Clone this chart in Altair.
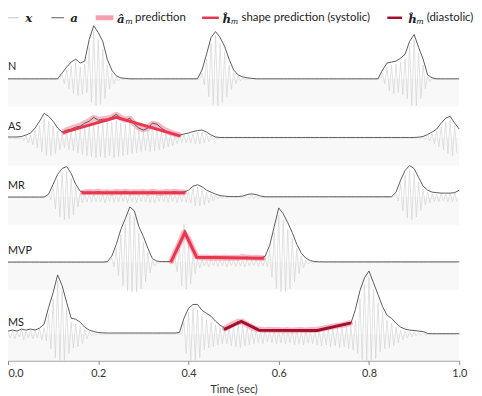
import altair as alt
import pandas as pd

# ---------------- data (amplitudes, px-like units) ----
T = [i / 100 for i in range(101)]          # sample times (sec), step 0.01
ROWS = ["N", "AS", "MR", "MVP", "MS"]

# envelope a
N_a = [0,0,0,0,0,0,0,0,0,0,
       0,0,6,12,17,20,16,18,40,54,
       47,38,20,9,3,1,0.5,0,0,0,
       0,0,0,0,0,0,0,0,0,0,
       0,0,0,9,25,42,48,42,33,20,
       9,4,2,1,0.5,0,0,0,0,0,
       0,0,0,0,0,0,0,0,0,0,
       0,0,0,0,0,0,0,0,0,0,
       0,0,0,9,16,17,18,21,25,38,
       45,32,20,4,1,0,0,0,0,0,
       0]
AS_a = [1,1,1,1.5,3,5,10,17,25,22,
        17,10,6,8,9,11,12,15,17,21,
        18,19,19,21,24,20,18,20,14,10,
        8,10,15,14,10,7,5,3.5,2.7,4,
        5,6.5,7.5,8,6,3,1,0.5,0.5,0.5,
        0.5,0.5,0.5,0.5,0.5,0.5,0.5,0.5,0.5,0.5,
        0.5,0.5,0.5,0.5,0.5,0.5,0.5,0.5,0.5,0.5,
        0.5,0.5,0.5,0.5,0.5,0.5,0.5,0.5,0.5,0.5,
        0.5,0.5,0.5,0.5,0.5,0.5,0.5,0.5,0.5,0.5,
        0.5,0.8,1.5,3.5,6,9,15,20,22,15,
        9]
MR_a = [0,0,0,0,0,0,0,0,0,3,
        13,23,29,31,24,13,6,4.5,5,4.5,
        5.5,4.5,5,4,5,4.5,5.5,4,5,4.5,
        5,4,5.5,4.5,4,5,4.5,5.5,4.5,5,
        7,11,12.5,10.5,7,5,3,1.5,1,0.5,
        0.5,0.5,1,2.5,3.3,2.5,1,0.3,0.3,0.3,
        0.3,0.3,0.3,0.3,0.3,0.3,0.3,0.3,0.3,0.3,
        0.3,0.3,0.3,0.3,0.3,0.3,0.3,0.3,0.3,0.3,
        0.3,0.3,0.3,0.3,0.3,0.3,5,17,27,32,
        29,20,11,7,5,4.5,4,4,4,4.5,
        7]
MVP_a = [0,0,0,0,0,0,0,0,0,0,
         0,0,0,0,0,0,0,0,0,0,
         0,0,0.3,6,18,33,44,56,52,36,
         26,14,3.5,1,0.5,0.5,0.5,9,18,29,
         22,13,5,4,4.5,4,4.2,4,4.3,4,
         4.2,4,4.5,5,4.3,4,4,6,17,36,
         55,49,40,30,18,9,4,1.5,0.5,0.3,
         0.2,0.2,0.2,0.2,0.2,0.2,0.2,0.2,0.2,0.2,
         0.2,0.2,0.2,0.2,0.2,0.2,0.2,0.2,0.2,0.2,
         0.2,0.2,0.2,0.2,0.2,0.2,0.2,0.2,0.2,0.2,
         0.2]
MS_a = [3,4,3,5,4,5,4,6,10,27,
        42,60,49,32,16,15,12,7,4,2.5,
        1.5,1.2,1,1,1,1,1,1,1,1,
        1,1,1,1,1,1,1,1,1.5,16,
        26,30,30,24,21,18,13,9,6,8,
        10,12.5,12,9.5,7,4.5,4,3.5,4,3.5,
        3.8,3.3,3.6,3.2,3.4,3.7,3.3,3.8,3.6,4.5,
        5.5,6.5,7.5,8,8.5,9.5,11,25,44,57,
        64,52,40,28,19,16,11,7,5,4,
        3.5,3,2.5,0.5,0.3,0.3,0.3,0.3,0.3,0.3,
        0.3]

# signal x : upper excursions (at t) and lower excursions (at t + 0.005)
N_hi = [0,0,0,0,0,0,0,0,0,0,
        0,0,4,9,13,16,12,15,32,48,
        40,30,14,6,2,0.5,0,0,0,0,
        0,0,0,0,0,0,0,0,0,0,
        0,0,0,6,20,36,44,36,27,14,
        6,3,1,0,0,0,0,0,0,0,
        0,0,0,0,0,0,0,0,0,0,
        0,0,0,0,0,0,0,0,0,0,
        0,0,0,6,12,14,15,17,20,33,
        40,26,14,3,0.5,0,0,0,0,0]
N_lo = [0,0,0,0,0,0,0,0,0,0,
        0,0,-5,-10,-15,-17,-16,-14,-24,-27,
        -26,-20,-10,-5,-2,-1,0,0,0,0,
        0,0,0,0,0,0,0,0,0,0,
        0,0,0,-6,-18,-26,-27,-24,-18,-11,
        -5,-2,-1,0,0,0,0,0,0,0,
        0,0,0,0,0,0,0,0,0,0,
        0,0,0,0,0,0,0,0,0,0,
        0,0,0,-5,-12,-15,-14,-16,-20,-27,
        -27,-20,-10,-3,-1,0,0,0,0,0]
AS_hi = [0.5,0.5,0.5,1,2,3,7,13,20,17,
         12,7,4,6,7,8,9,11,13,16,
         14,15,15,16,18,15,14,15,10,7,
         6,7,11,10,7,5,3.5,2.5,2,3,
         3.5,4.5,5.5,6,4,2,0.5,0,0,0,
         0,0,0,0,0,0,0,0,0,0,
         0,0,0,0,0,0,0,0,0,0,
         0,0,0,0,0,0,0,0,0,0,
         0,0,0,0,0,0,0,0,0,0,
         0,0.5,1,2.5,4,7,11,16,18,12]
AS_lo = [-1,-1,-1,-3,-5,-7,-10,-14,-18,-18,
         -16,-12,-10,-12,-13,-15,-17,-18,-19,-20,
         -19,-20,-18,-20,-19,-18,-17,-16,-15,-14,
         -13,-14,-13,-12,-11,-9,-8,-6,-5,-5,
         -5,-6,-6,-5,-4,-2,-1,0,0,0,
         0,0,0,0,0,0,0,0,0,0,
         0,0,0,0,0,0,0,0,0,0,
         0,0,0,0,0,0,0,0,0,0,
         0,0,0,0,0,0,0,0,0,0,
         0,-0.5,-1,-3,-6,-9,-12,-16,-18,-15]
MR_hi = [0,0,0,0,0,0,0,0,0,2,
         10,18,25,26,19,10,4,3,4,3.5,
         4,3,3.5,4,3,4,3.5,3,4,3.5,
         3,4,3.5,3,4,3.5,4,3,3.5,4,
         5,9,10,8,5,3,2,1,0.5,0,
         0,0,0,2,2.5,1.5,0.5,0,0,0,
         0,0,0,0,0,0,0,0,0,0,
         0,0,0,0,0,0,0,0,0,0,
         0,0,0,0,0,0,3,13,22,27,
         24,15,8,5,3.5,3,4,3,3.5,4]
MR_lo = [0,0,0,0,0,0,0,0,0,-3,
         -12,-20,-23,-22,-18,-10,-6,-5,-5.5,-4.5,
         -5,-6,-4.5,-5.5,-5,-4.5,-6,-5,-5.5,-4.5,
         -5,-5.5,-6,-4.5,-5,-5.5,-4.5,-6,-5,-5.5,
         -6,-9,-9,-8,-6,-4,-2,-1,-0.5,0,
         0,0,0,-1.5,-2,-1.5,-0.5,0,0,0,
         0,0,0,0,0,0,0,0,0,0,
         0,0,0,0,0,0,0,0,0,0,
         0,0,0,0,0,0,-4,-14,-21,-23,
         -20,-14,-8,-6,-4.5,-5,-4,-5,-4.5,-5]
MVP_hi = [0,0,0,0,0,0,0,0,0,0,
          0,0,0,0,0,0,0,0,0,0,
          0,0,0,4,14,28,38,50,46,30,
          20,10,2,0,0,0,0,6,16,38,
          18,9,3,2.5,2,3,2.5,2,3,2.5,
          2,3,2.5,3,2,2.5,3,4,12,30,
          48,42,33,24,14,6,2,0.5,0,0,
          0,0,0,0,0,0,0,0,0,0,
          0,0,0,0,0,0,0,0,0,0,
          0,0,0,0,0,0,0,0,0,0]
MVP_lo = [0,0,0,0,0,0,0,0,0,0,
          0,0,0,0,0,0,0,0,0,0,
          0,0,0,-5,-14,-24,-29,-30,-30,-27,
          -20,-11,-4,-1,0,0,0,-10,-24,-28,
          -22,-12,-6,-4,-5,-3.5,-4.5,-4,-5,-3.5,
          -4.5,-4,-5,-4,-3.5,-4.5,-4,-5,-15,-27,
          -30,-30,-27,-20,-12,-6,-2,-1,0,0,
          0,0,0,0,0,0,0,0,0,0,
          0,0,0,0,0,0,0,0,0,0,
          0,0,0,0,0,0,0,0,0,0]
MS_hi = [2,3,2,4,3,4,3,5,6,20,
         35,54,44,26,12,10,8,4,2,1,
         0,0,0,0,0,0,0,0,0,0,
         0,0,0,0,0,0,0,0,0,12,
         22,26,24,18,14,12,9,6,4,6,
         8,10,9,7,5,4,3,4,3,4,
         3,4,3,4,3.5,3,4,3,4,4,
         5,5,6,6,7,7,8,14,36,50,
         58,45,32,22,14,11,7,4,3,2.5,
         2,1.5,1,0,0,0,0,0,0,0]
MS_lo = [-4,-5,-3,-6,-4,-5,-4,-6,-7,-15,
         -24,-27,-27,-20,-14,-13,-10,-5,-2,-1,
         0,0,0,0,0,0,0,0,0,0,
         0,0,0,0,0,0,0,0,0,-20,
         -27,-27,-24,-16,-14,-13,-11,-10,-10,-12,
         -13,-14,-12,-11,-10,-9,-10,-8,-9,-10,
         -9,-10,-9,-11,-10,-11,-9,-10,-11,-12,
         -11,-13,-12,-14,-13,-15,-16,-20,-26,-27,
         -27,-25,-18,-15,-14,-12,-9,-6,-4,-3,
         -2,-1.5,-1,0,0,0,0,0,0,0]

# predicted envelope a_m (pink)
AS_am_t = [0.124,0.13,0.14,0.15,0.16,0.17,0.18,0.19,0.20,0.21,0.22,0.23,0.24,0.25,
           0.26,0.27,0.28,0.29,0.30,0.31,0.32,0.33,0.34,0.35,0.36,0.37,0.379]
AS_am_v = [6,8,9.5,11,12.5,15,17,20.5,18.5,19,19.5,21,23.5,20.5,
           18.5,19.5,14.5,10.5,8.5,10,14.5,13.5,10,7.5,5.5,4,3]
MR_am_t = [0.166,0.17,0.18,0.19,0.20,0.21,0.22,0.23,0.24,0.25,0.26,0.27,0.28,
           0.29,0.30,0.31,0.32,0.33,0.34,0.35,0.36,0.37,0.38,0.39]
MR_am_v = [4.5,4.8,5.2,4.6,5.4,4.5,5.0,4.3,5.3,4.6,5.5,4.4,5.0,
           4.7,5.2,4.3,5.4,4.6,4.4,5.1,4.6,5.4,4.6,4.8]
MVP_am_t = [0.362,0.37,0.38,0.39,0.40,0.41,0.418,0.43,0.44,0.45,0.46,0.47,0.48,
            0.49,0.50,0.51,0.52,0.53,0.54,0.55,0.565]
MVP_am_v = [1,9,19,30,23,13,5.5,4.5,4.8,4.2,4.6,4.3,4.6,
            4.2,4.5,4.3,5.2,4.6,4.3,4.4,4]
MS_am_t = [0.481,0.49,0.50,0.51,0.52,0.53,0.54,0.55,0.56,0.57,0.58,0.59,0.60,0.61,
           0.62,0.63,0.64,0.65,0.66,0.67,0.68,0.69,0.70,0.71,0.72,0.73,0.74,0.75,0.758]
MS_am_v = [5.5,8,10.5,12.5,12.5,9.5,7,5,4.5,4,4.4,3.8,4.2,3.6,
           4,3.5,3.8,4.2,3.6,4.2,4,4.8,5.8,6.8,7.5,8.5,9,10,11]

# shape predictions h_m
AS_h_t = [0.124, 0.24, 0.379];              AS_h_v = [5.7, 21, 2.4]
MR_h_t = [0.166, 0.39];                     MR_h_v = [4.3, 4.3]
MVP_h_t = [0.362, 0.392, 0.418, 0.565];     MVP_h_v = [1, 30, 5, 4]
MS_h_t = [0.481, 0.517, 0.557, 0.685, 0.758]; MS_h_v = [5, 12.7, 3.7, 3.5, 11]

TICKS = [0, 0.2, 0.4, 0.6, 0.8, 1.0]

# ---------------- layout (not data) ----------------
BASE = {"N": 286, "AS": 226, "MR": 166, "MVP": 100, "MS": 27}
BAND = 28
TOP = 10
W, H = 458, 355 - TOP

sig = {
    "N": (N_a, N_hi, N_lo, None, None, None, None, None),
    "AS": (AS_a, AS_hi, AS_lo, AS_am_t, AS_am_v, AS_h_t, AS_h_v, "sys"),
    "MR": (MR_a, MR_hi, MR_lo, MR_am_t, MR_am_v, MR_h_t, MR_h_v, "sys"),
    "MVP": (MVP_a, MVP_hi, MVP_lo, MVP_am_t, MVP_am_v, MVP_h_t, MVP_h_v, "sys"),
    "MS": (MS_a, MS_hi, MS_lo, MS_am_t, MS_am_v, MS_h_t, MS_h_v, "dia"),
}

recs = []
for r in ROWS:
    a, hi, lo, amt, amv, ht, hv, hk = sig[r]
    b = BASE[r]
    for i, t in enumerate(T):
        recs.append(dict(row=r, kind="a", t=t, lvl=b + a[i], o=i))
    for i in range(100):
        recs.append(dict(row=r, kind="x", t=T[i], lvl=b + hi[i], o=2 * i))
        recs.append(dict(row=r, kind="x", t=T[i] + 0.005, lvl=b + lo[i], o=2 * i + 1))
    if amt:
        for i, (t, v) in enumerate(zip(amt, amv)):
            recs.append(dict(row=r, kind="am", t=t, lvl=b + v, o=i))
        for i, (t, v) in enumerate(zip(ht, hv)):
            recs.append(dict(row=r, kind="h" + hk, t=t, lvl=b + v, o=i))
df = pd.DataFrame(recs)

bands = pd.DataFrame([dict(row=r, t=0.0, t1=1.0, lvl=BASE[r], y1=max(BASE[r] - BAND, 0)) for r in ROWS])
labels = pd.DataFrame([dict(row=r, t=0.0, lvl=BASE[r] + 8.5) for r in ROWS])

xs = alt.Scale(domain=[0, 1], nice=False, zero=False)
ys = alt.Scale(domain=[0, H], nice=False, zero=False)
FONT = "Lato"

XAXIS = alt.Axis(
    values=TICKS, format=".1f", title="Time (sec)", grid=False,
    domainColor="#8a8a8a", tickColor="#8a8a8a", tickSize=4,
    labelFont=FONT, labelFontSize=11, labelColor="#333", labelPadding=3,
    labelAlign={"condition": {"test": "datum.value === 0", "value": "left"}, "value": "center"},
    titleFont=FONT, titleFontSize=11, titleFontWeight="normal", titleColor="#333", titlePadding=5)
xenc = alt.X("t:Q", scale=xs, axis=XAXIS, title="Time (sec)")
yenc = alt.Y("lvl:Q", scale=ys, axis=None)

base = alt.Chart(df)

band_layer = alt.Chart(bands).mark_rect(color="#f8f8f8").encode(
    x=xenc, x2="t1:Q", y=yenc, y2="y1:Q")

def line(kind, **kw):
    return base.transform_filter(alt.datum.kind == kind).mark_line(**kw).encode(
        x=xenc, y=yenc, detail="row:N", order="o:Q")

x_layer = line("x", color="#d2d2d2", strokeWidth=0.65)
am_layer = line("am", color="#f5a0b0", strokeWidth=6, opacity=0.75, strokeCap="round", strokeJoin="round")
a_layer = line("a", color="#5a5a5a", strokeWidth=1)
hs_layer = line("hsys", color="#e8364f", strokeWidth=3, strokeCap="round")
hd_layer = line("hdia", color="#a3102f", strokeWidth=3, strokeCap="round")

lab_layer = alt.Chart(labels).mark_text(align="left", baseline="alphabetic", font=FONT,
                                        fontSize=11, color="#222").encode(
    x=xenc, y=yenc, text="row:N")

# ---------------- manual legend ----------------
LY = 15 - 8 - TOP     # page y 15 -> plot coordinates
LFS = 11.6
def lrule(x1, x2, color, w, op=1.0):
    return alt.Chart(pd.DataFrame({"k": [0]})).mark_rule(color=color, strokeWidth=w, opacity=op).encode(
        x=alt.value(x1), x2=alt.value(x2), y=alt.value(LY))

def ltext(x, s, font=FONT, size=LFS, style="normal", weight="normal", dy=0, align="left"):
    return alt.Chart(pd.DataFrame({"k": [0]})).mark_text(
        text=s, font=font, fontSize=size, fontStyle=style, fontWeight=weight,
        align=align, baseline="middle", color="#222", dy=dy).encode(x=alt.value(x), y=alt.value(LY))

SYM = "DejaVu Serif"
legend = [
    lrule(0, 11, "#c4c4c4", 1), ltext(21, "x", SYM, 12, "italic", "bold", align="center"),
    lrule(44, 57, "#5a5a5a", 1), ltext(67, "a", SYM, 12, "italic", "bold", align="center"),
    lrule(89, 107, "#f5a0b0", 5),
    ltext(114.5, "â", SYM, 12, "italic", "bold", align="center", dy=1),
    ltext(119, "m", SYM, 8, "italic", dy=4),
    ltext(129, "prediction"),
    lrule(197, 214, "#e8364f", 2.5),
    ltext(222, "ĥ", SYM, 12, "italic", "bold", align="center", dy=1),
    ltext(226, "m", SYM, 8, "italic", dy=4),
    ltext(237, "shape prediction (systolic)"),
    lrule(385, 400, "#a3102f", 2.5),
    ltext(410.5, "ĥ", SYM, 12, "italic", "bold", align="center", dy=1),
    ltext(414.5, "m", SYM, 8, "italic", dy=4),
    ltext(425, "(diastolic)"),
]

chart = alt.layer(band_layer, x_layer, am_layer, a_layer, hs_layer, hd_layer, lab_layer, *legend).properties(
    width=W, height=H,
    autosize=alt.AutoSizeParams(type="none"),
    padding={"left": 0, "top": TOP, "right": 15, "bottom": 32},
    background="white",
).configure_view(stroke=None)

chart.save("out.html", embed_options={"renderer": "svg", "actions": False})
